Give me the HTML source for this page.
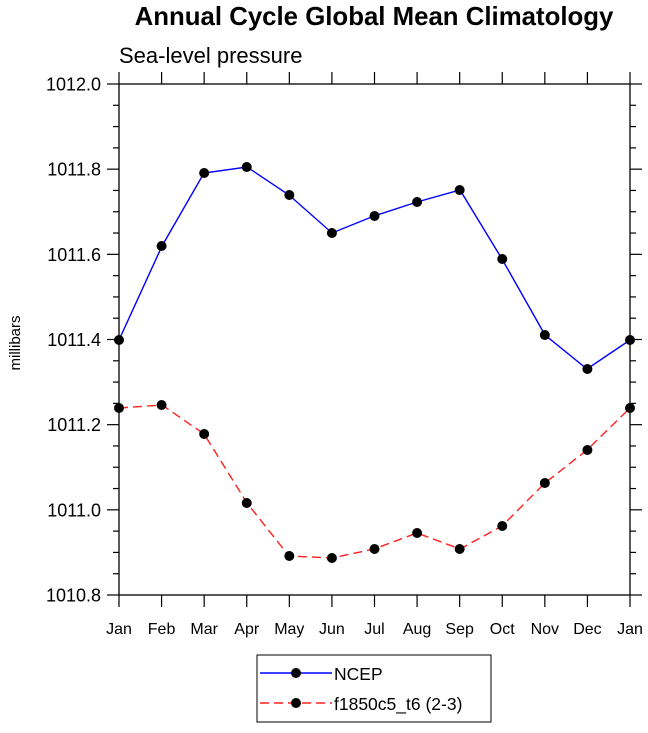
<!DOCTYPE html>
<html><head><meta charset="utf-8"><style>body{margin:0;background:#fff}</style></head><body>
<svg width="648" height="728" xmlns="http://www.w3.org/2000/svg" font-family="Liberation Sans, sans-serif">
<text x="374" y="25" text-anchor="middle" font-size="25.8" font-weight="bold">Annual Cycle Global Mean Climatology</text>
<text x="119" y="63" font-size="22">Sea-level pressure</text>
<text transform="translate(20,343) rotate(-90)" text-anchor="middle" font-size="15">millibars</text>
<g stroke="#000" stroke-width="1.3">
<rect x="119" y="84" width="511" height="511" fill="none"/>
</g>
<g id="ticks" stroke="#000" stroke-width="1.2"></g>
<g font-size="18" text-anchor="end" id="yl"></g>
<g font-size="16" text-anchor="middle" id="xl"></g>
<polyline fill="none" stroke="#0000ff" stroke-width="1.4" points="119,340 162,246 204,173 247,167 289,195 332,233 374,216 417,202 460,190 502,259 545,335 587,369 630,340"/>
<polyline fill="none" stroke="#ff2020" stroke-width="1.4" stroke-dasharray="9,5" points="119,408 162,405 204,434 247,503 289,556 332,558 374,549 417,533 460,549 502,526 545,483 587,450 630,408"/>
<g id="dots"></g>
<rect x="257" y="655" width="234" height="67" fill="none" stroke="#000" stroke-width="1"/>
<line x1="260" y1="673" x2="332" y2="673" stroke="#0000ff" stroke-width="1.4"/>
<circle cx="296" cy="673" r="5"/>
<text x="334" y="680" font-size="17.5">NCEP</text>
<line x1="260" y1="703" x2="332" y2="703" stroke="#ff2020" stroke-width="1.4" stroke-dasharray="9,5"/>
<circle cx="296" cy="703" r="5"/>
<text x="334" y="710" font-size="17.5">f1850c5_t6 (2-3)</text>
</svg>
<script>
const ns="http://www.w3.org/2000/svg";
function el(p,t,a,txt){const e=document.createElementNS(ns,t);for(const k in a)e.setAttribute(k,a[k]);if(txt)e.textContent=txt;document.getElementById(p).appendChild(e);}
for(let i=0;i<=24;i++){const y=84+i*511/24;const L=i%4==0?12:6;
el("ticks","line",{x1:119-L,x2:119,y1:y,y2:y});el("ticks","line",{x1:630,x2:630+L,y1:y,y2:y});
if(i%4==0)el("yl","text",{x:101,y:y+6.5},(1012-i*0.05).toFixed(1));}
const m=["Jan","Feb","Mar","Apr","May","Jun","Jul","Aug","Sep","Oct","Nov","Dec","Jan"];
for(let i=0;i<=12;i++){const x=119+i*511/12;
el("ticks","line",{x1:x,x2:x,y1:72,y2:84});el("ticks","line",{x1:x,x2:x,y1:595,y2:607});
el("xl","text",{x:x,y:634},m[i]);}
const a=[340,246,173,167,195,233,216,202,190,259,335,369,340],b=[408,405,434,503,556,558,549,533,549,526,483,450,408];
for(let i=0;i<=12;i++){const x=119+i*511/12;el("dots","circle",{cx:x,cy:a[i],r:5});el("dots","circle",{cx:x,cy:b[i],r:5});}
</script>
</body></html>
